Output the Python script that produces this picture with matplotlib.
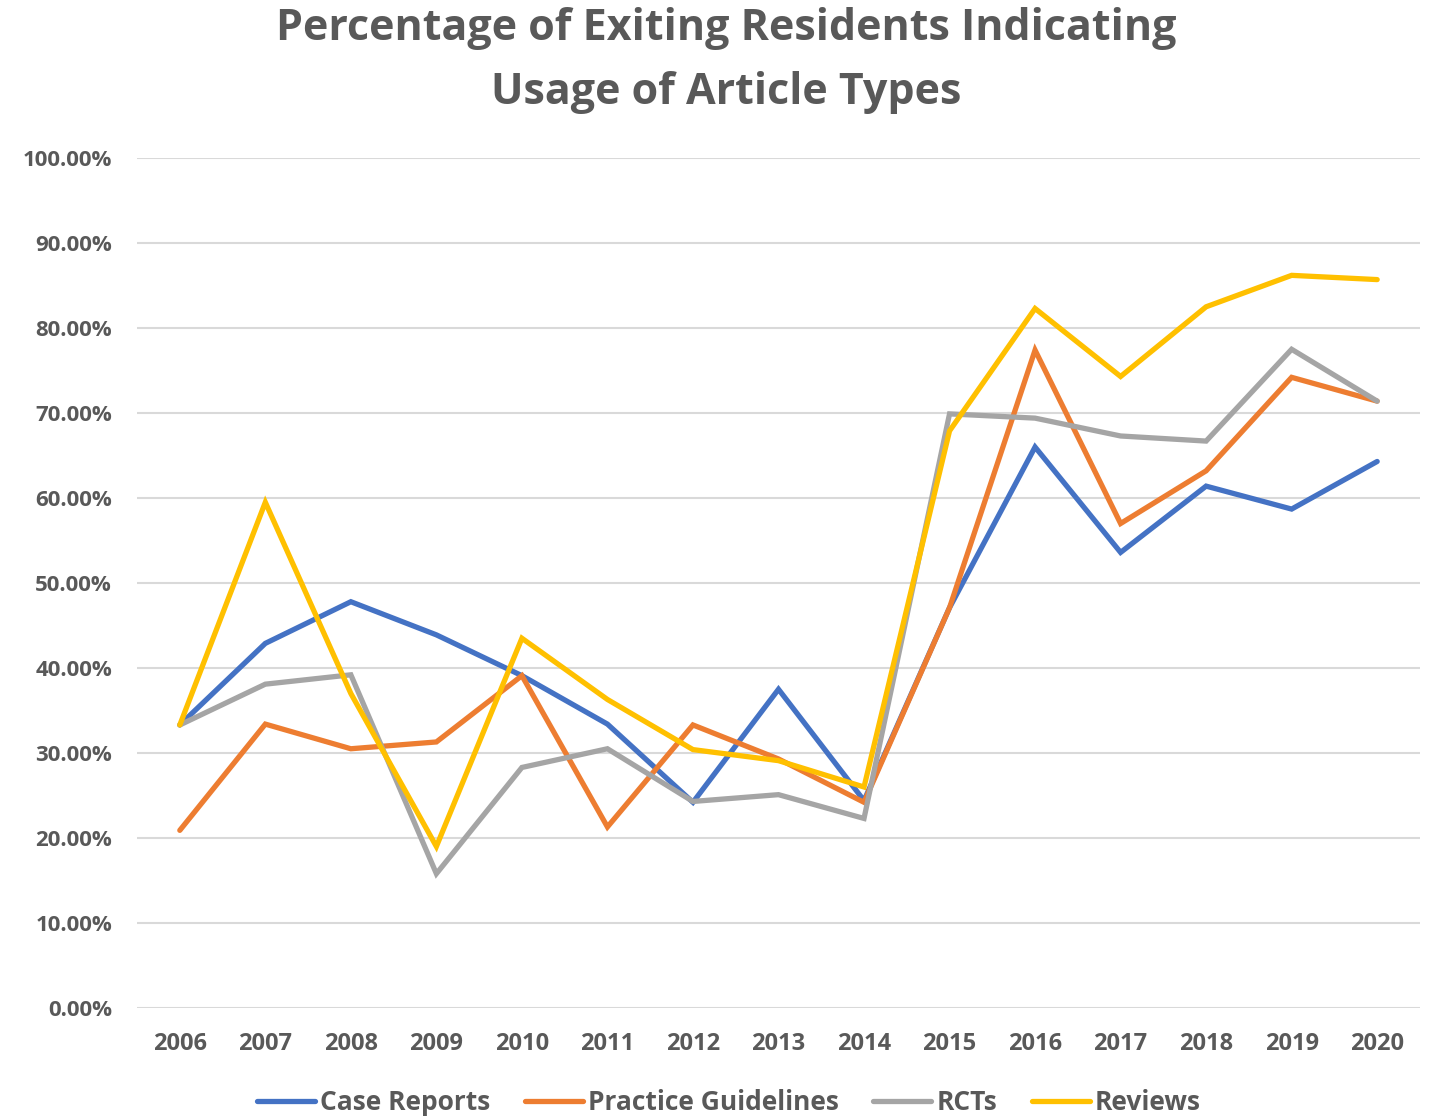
import numpy as np
import matplotlib.pyplot as plt
from matplotlib.ticker import FuncFormatter

years = ['2006', '2007', '2008', '2009', '2010', '2011', '2012', '2013',
         '2014', '2015', '2016', '2017', '2018', '2019', '2020']

case_reports = [33.3, 42.9, 47.8, 43.9, 39.1, 33.4, 24.2, 37.5,
                24.4, 47.1, 66.0, 53.6, 61.4, 58.7, 64.3]
practice_guidelines = [20.9, 33.4, 30.5, 31.3, 39.1, 21.3, 33.3, 29.3,
                       24.2, 47.1, 77.4, 57.0, 63.2, 74.2, 71.4]
rcts = [33.3, 38.1, 39.2, 15.8, 28.3, 30.5, 24.3, 25.1,
        22.3, 69.9, 69.4, 67.3, 66.7, 77.5, 71.4]
reviews = [33.3, 59.5, 37.0, 19.0, 43.5, 36.3, 30.4, 29.1,
           26.0, 67.9, 82.3, 74.3, 82.5, 86.2, 85.7]

series_names = ['Case Reports', 'Practice Guidelines', 'RCTs', 'Reviews']
series_colors = ['#4472C4', '#ED7D31', '#A5A5A5', '#FFC000']

plt.rcParams['font.family'] = ['Open Sans', 'DejaVu Sans']
text_col = '#595959'

fig = plt.figure(figsize=(14.35, 11.17), dpi=100)
ax = fig.add_axes([0.0955, 0.0976, 0.894, 0.7609])

x = np.arange(len(years))
for vals, name, col in zip([case_reports, practice_guidelines, rcts, reviews],
                           series_names, series_colors):
    ax.plot(x, vals, color=col, lw=3.8, label=name,
            solid_capstyle='round', solid_joinstyle='miter')

ax.set_xlim(-0.5, len(years) - 0.5)
ax.set_ylim(0, 100)
ax.set_yticks(np.arange(0, 101, 10))
ax.yaxis.set_major_formatter(FuncFormatter(lambda v, p: '%.2f%%' % v))
ax.set_xticks(x)
ax.set_xticklabels(years)
ax.grid(axis='y', color='#D9D9D9', lw=1.5)
ax.set_axisbelow(True)
for s in ax.spines.values():
    s.set_visible(False)
ax.tick_params(length=0, labelcolor=text_col)
ax.tick_params(axis='y', pad=18, labelsize=16)
ax.tick_params(axis='x', pad=17, labelsize=17)
for lab in ax.get_xticklabels() + ax.get_yticklabels():
    lab.set_fontweight('bold')

fig.text(0.506, 1 - 40 / 1117, 'Percentage of Exiting Residents Indicating',
         ha='center', va='baseline', fontsize=31, fontweight='bold', color=text_col)
fig.text(0.506, 1 - 104 / 1117, 'Usage of Article Types',
         ha='center', va='baseline', fontsize=31, fontweight='bold', color=text_col)

leg = fig.legend(loc='center', bbox_to_anchor=(0.508, 0.013), ncol=4, frameon=False,
                 fontsize=19, handlelength=2.2, columnspacing=1.3, handletextpad=0.2)
for t in leg.get_texts():
    t.set_color(text_col)
    t.set_fontweight('bold')

fig.savefig('out.png', dpi=100, facecolor='white')
